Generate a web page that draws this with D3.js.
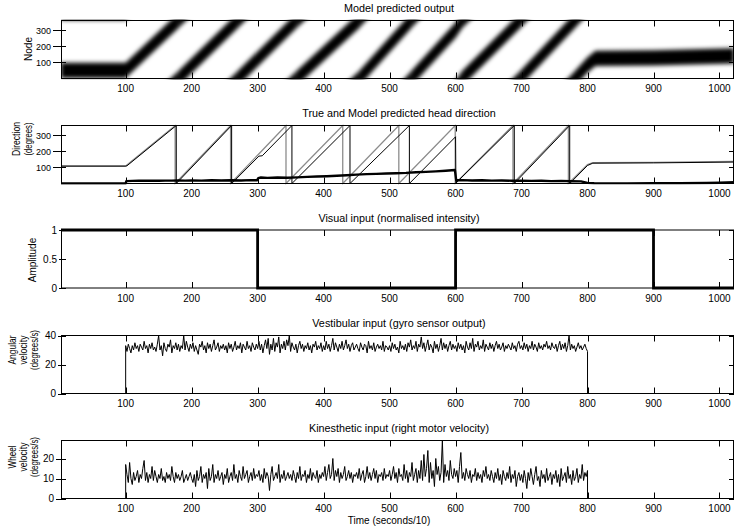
<!DOCTYPE html>
<html>
<head>
<meta charset="utf-8">
<script src="https://cdn.jsdelivr.net/npm/d3@7"></script>
<style>
  body { margin: 0; background: #fff; }
  text { font-family: "Liberation Sans", Arial, sans-serif; fill: #000; }
</style>
</head>
<body>
<div id="grafico"></div>
<script>
// set the dimensions of the figure
var width = 734,
    height = 531

// time axis ticks (seconds/10)
var timeTicks = [100, 200, 300, 400, 500, 600, 700, 800, 900, 1000]

// panel 1: centre of the active bump of nodes
var bandTime = [2, 100, 180, 180, 270, 270, 359, 359, 454, 454, 533, 533, 600, 610, 610, 698, 698, 781, 781, 800, 812, 900, 1022]
var bandNode = [50, 50, 360, 0, 360, 0, 360, 0, 360, 0, 360, 0, 300, 360, 0, 360, 0, 360, 0, 85, 125, 128, 140]

// panel 2: true head direction (grey)
var trueTime = [2, 100, 175, 175, 259, 259, 343, 343, 429, 429, 514, 514, 599.5, 599.5, 687, 687, 771, 771, 800, 808, 900, 1022]
var trueDir = [108, 108, 360, 0, 360, 0, 360, 0, 360, 0, 360, 0, 360, 0, 360, 0, 360, 0, 118, 129, 131, 137]

// panel 2: model predicted head direction (black)
var modelTime = [2, 100, 102, 176.7, 176.7, 260.6, 260.6, 302, 307, 352, 352, 440, 440, 530, 530, 600, 600.5, 689, 689, 773, 773, 800, 808, 900, 1022]
var modelDir = [108, 108, 110, 360, 0, 360, 0, 170, 172, 360, 0, 360, 0, 360, 0, 290, 3, 360, 0, 360, 0, 112, 126, 128, 133]

// panel 2: thick lower trace
var errTime = [2, 100, 101, 110, 120, 130, 140, 150, 160, 170, 180, 190, 200, 215, 230, 245, 260, 275, 290, 299,
  301, 305, 315, 330, 345, 360, 375, 390, 405, 420, 435, 450, 465, 480, 495, 510, 525, 540, 555, 570,
  585, 599, 601, 610, 625, 640, 655, 670, 685, 700, 715, 730, 745, 760, 775, 790, 800, 810, 830, 860,
  900, 940, 980, 1000, 1022]
var errDir = [0, 0, 15, 16, 17, 17, 18, 17, 18, 18, 19, 18, 19, 18, 20, 19, 20, 19, 21, 20,
  33, 37, 35, 37, 36, 38, 41, 43, 45, 48, 51, 55, 58, 60, 62, 64, 66, 70, 72, 75,
  79, 84, 20, 21, 19, 20, 18, 19, 17, 18, 16, 17, 15, 16, 14, 13, 4, 2, 1, 1,
  2, 2, 3, 5, 8]

// panel 3: visual input
var visTime = [2, 300, 300, 600, 600, 900, 900, 1022]
var visAmp = [1, 1, 0, 0, 1, 1, 0, 0]

// panels 4 and 5: sensor samples from t=100 to t=800, one every 2 steps
var inputStart = 100,
    inputStep = 2

var gyroValues = [
  33,29,34,31,28,33,30,35,31,33,29,34,32,30,36,31,33,28,34,31,35,30,32,29,34,
  40,30,33,26,35,31,29,34,32,37,28,33,31,35,30,34,29,33,31,40,30,36,32,29,34,
  31,35,29,33,30,27,34,32,36,30,33,28,35,31,34,29,33,37,30,32,35,29,33,31,34,
  30,33,28,35,31,34,29,32,36,30,33,31,35,28,34,32,30,36,31,33,29,35,32,30,34,
  31,36,30,34,28,33,37,31,38,27,34,30,38,29,35,32,39,28,34,31,36,30,37,33,40,
  29,35,32,30,34,28,33,36,31,34,29,33,31,35,30,33,28,34,32,36,30,33,31,35,29,
  33,30,36,31,34,29,33,38,30,35,32,29,34,31,36,30,33,37,31,34,29,33,35,30,32,
  34,31,29,35,32,30,34,33,28,36,31,33,30,35,29,32,34,31,33,30,36,29,33,32,30,
  33,29,35,31,34,30,32,28,36,31,33,30,34,29,35,32,37,30,33,31,36,29,34,32,39,
  31,35,29,33,37,30,34,32,28,36,31,34,29,33,38,30,35,31,34,29,33,36,30,34,31,
  33,29,35,31,34,30,33,28,36,32,30,35,31,38,29,34,32,36,30,33,31,37,29,34,32,
  30,35,31,34,29,33,36,31,34,30,32,35,29,33,31,34,32,30,35,31,33,29,34,36,31,
  33,30,35,31,34,29,33,31,36,30,34,32,29,35,31,33,30,34,32,36,31,33,30,35,32,
  31,34,29,33,36,30,34,31,35,29,33,40,30,34,31,33,29,32,35,31,33,30,32,34,31,
  29]

var wheelValues = [
  17,12,8,18,10,7,13,9,11,14,8,12,10,15,19,9,13,8,12,10,16,9,14,11,8,
  12,10,15,9,11,8,13,10,12,9,16,11,8,13,10,12,9,11,14,8,10,12,9,11,13,
  10,8,12,6,14,9,11,16,8,12,10,13,5,15,9,11,17,8,12,10,14,9,11,13,7,
  12,10,15,8,11,13,9,17,10,12,8,14,11,9,16,10,12,14,8,11,13,9,15,10,12,
  11,14,9,12,8,15,10,13,11,4,12,16,9,11,13,10,17,8,12,10,14,9,11,13,10,
  12,9,14,11,8,13,10,16,9,12,11,14,8,12,10,15,9,13,11,10,14,8,12,10,13,
  11,16,9,13,17,10,12,20,9,14,11,15,8,13,10,12,16,9,11,14,10,13,8,12,11,
  13,10,15,9,12,14,8,11,16,10,13,9,12,15,10,14,8,12,11,13,9,15,10,12,11,
  14,9,12,16,10,13,8,15,11,12,9,17,10,14,8,13,11,18,9,12,15,8,14,10,19,
  9,22,11,15,24,8,18,10,14,6,20,12,16,9,13,29,8,17,11,14,9,19,12,10,15,
  11,14,8,16,23,10,13,9,15,12,10,14,8,12,11,15,9,13,10,12,8,14,11,16,10,
  12,9,14,11,8,13,10,15,9,12,7,14,11,9,13,10,16,8,12,10,14,6,11,13,9,
  12,8,14,10,5,13,9,15,11,7,12,16,9,11,6,14,10,12,8,15,9,11,13,7,12,
  10,14,8,12,6,15,9,11,13,8,16,10,12,7,14,9,11,15,8,12,10,17,9,13,11,
  14]

// layout of the five stacked axes
var left = 61, right = 734, plotH = 58
var panels = [
  { top: 20.5, domain: [0, 360], ticks: [100, 200, 300], labelEnd: 51, tickFont: 9,
    title: "Model predicted output", ylab: ["Node"], ylabX: [28], ylabY: 49, ylabLen: [null] },
  { top: 125.5, domain: [0, 360], ticks: [100, 200, 300], labelEnd: 51, tickFont: 9,
    title: "True and Model predicted head direction", ylab: ["Direction", "(degrees)"], ylabX: [16, 28], ylabY: 139, ylabLen: [34, 33] },
  { top: 230, domain: [0, 1], ticks: [0, 0.5, 1], labelEnd: 57, tickFont: 10,
    title: "Visual input (normalised intensity)", ylab: ["Amplitude"], ylabX: [32], ylabY: 260, ylabLen: [null] },
  { top: 335.5, domain: [0, 40], ticks: [0, 20, 40], labelEnd: 56, tickFont: 10,
    title: "Vestibular input (gyro sensor output)", ylab: ["Angular", "velocity", "(degrees/s)"], ylabX: [12, 23, 34], ylabY: 350, ylabLen: [29, 29, 40] },
  { top: 440.5, domain: [0, 29], ticks: [0, 10, 20], labelEnd: 54, tickFont: 10,
    title: "Kinesthetic input (right motor velocity)", ylab: ["Wheel", "velocity", "(degrees/s)"], ylabX: [12, 23, 34], ylabY: 457, ylabLen: [23, 29, 40] }
]

var x = d3.scaleLinear()
  .domain([2, 1022])
  .range([left, right])

var svg = d3.select("#grafico")
  .append("svg")
    .attr("width", width)
    .attr("height", height)

svg.append("rect")
  .attr("width", width)
  .attr("height", height)
  .attr("fill", "#fff")

var defs = svg.append("defs")
defs.append("filter")
    .attr("id", "soft")
    .attr("x", "-5%").attr("y", "-20%")
    .attr("width", "110%").attr("height", "140%")
  .append("feGaussianBlur")
    .attr("stdDeviation", 1.9)

function inputSeries(vals) {
  var pts = [[2, 0], [inputStart, 0]]
  vals.forEach(function(v, i) { pts.push([inputStart + i * inputStep, v]) })
  pts.push([inputStart + (vals.length - 1) * inputStep, 0], [1022, 0])
  return pts
}

panels.forEach(function(p, k) {
  var bottom = p.top + plotH
  var y = d3.scaleLinear().domain(p.domain).range([bottom, p.top])
  var g = svg.append("g")

  var pad = (k == 2) ? 3 : 1
  defs.append("clipPath")
      .attr("id", "clip" + k)
    .append("rect")
      .attr("x", left)
      .attr("y", p.top - pad)
      .attr("width", right - left)
      .attr("height", plotH + 2 * pad)

  var plot = g.append("g").attr("clip-path", "url(#clip" + k + ")")
  var line = d3.line()
    .x(function(d) { return x(d[0]) })
    .y(function(d) { return y(d[1]) })

  if (k == 0) {
    // active node bump, repeated above and below so it wraps round 360
    var band = d3.zip(bandTime, bandNode)
    var blur = plot.append("g").attr("filter", "url(#soft)")
    ;[-360, 0, 360].forEach(function(shift) {
      blur.append("path")
        .attr("d", d3.area()
          .x(function(d) { return x(d[0]) })
          .y0(function(d) { return y(d[1] + shift - 47) })
          .y1(function(d) { return y(d[1] + shift + 47) })(band))
        .attr("fill", "#000")
    })
  }

  if (k == 1) {
    plot.append("path")
      .attr("d", line(d3.zip(trueTime, trueDir)))
      .attr("fill", "none")
      .attr("stroke", "#8c8c8c")
      .attr("stroke-width", 1.3)
    plot.append("path")
      .attr("d", line(d3.zip(modelTime, modelDir)))
      .attr("fill", "none")
      .attr("stroke", "#000")
      .attr("stroke-width", 1)
    plot.append("path")
      .attr("d", line(d3.zip(errTime, errDir)))
      .attr("fill", "none")
      .attr("stroke", "#000")
      .attr("stroke-width", 2.4)
      .attr("stroke-linejoin", "round")
  }

  if (k == 2) {
    plot.append("path")
      .attr("d", line(d3.zip(visTime, visAmp)))
      .attr("fill", "none")
      .attr("stroke", "#000")
      .attr("stroke-width", 2.8)
  }

  if (k == 3 || k == 4) {
    plot.append("path")
      .attr("d", line(inputSeries(k == 3 ? gyroValues : wheelValues)))
      .attr("fill", "none")
      .attr("stroke", "#000")
      .attr("stroke-width", 1)
  }

  // axes box
  g.append("rect")
    .attr("x", left + 0.5)
    .attr("y", p.top)
    .attr("width", right - left - 1)
    .attr("height", plotH)
    .attr("fill", "none")
    .attr("stroke", "#000")
    .attr("stroke-width", 1)

  // x ticks point inwards from top and bottom
  timeTicks.forEach(function(t) {
    var xt = Math.round(x(t)) + 0.5
    g.append("line").attr("x1", xt).attr("x2", xt)
      .attr("y1", bottom).attr("y2", bottom - 6)
      .attr("stroke", "#000")
    g.append("line").attr("x1", xt).attr("x2", xt)
      .attr("y1", p.top).attr("y2", p.top + 6)
      .attr("stroke", "#000")
    g.append("text")
      .attr("x", x(t))
      .attr("y", bottom + 13.6)
      .attr("text-anchor", "middle")
      .style("font-size", "10px")
      .text(t)
  })

  // y ticks
  p.ticks.forEach(function(v) {
    var yt = Math.round(y(v)) + 0.5
    g.append("line").attr("x1", p.labelEnd + 2).attr("x2", left + 5)
      .attr("y1", yt).attr("y2", yt)
      .attr("stroke", "#000")
    g.append("line").attr("x1", right - 5).attr("x2", right)
      .attr("y1", yt).attr("y2", yt)
      .attr("stroke", "#000")
    g.append("text")
      .attr("x", p.labelEnd)
      .attr("y", y(v) + 3.5)
      .attr("text-anchor", "end")
      .style("font-size", p.tickFont + "px")
      .text(v)
  })

  // title
  g.append("text")
    .attr("x", 399)
    .attr("y", p.top - 8.5)
    .attr("text-anchor", "middle")
    .style("font-size", "10.8px")
    .text(p.title)

  // y label, one rotated line per entry
  p.ylab.forEach(function(s, i) {
    var t = g.append("text")
      .attr("transform", "translate(" + (p.ylabX[i] + 3.6) + "," + p.ylabY + ") rotate(-90)")
      .attr("text-anchor", "middle")
      .style("font-size", "10px")
      .text(s)
    if (p.ylabLen[i]) t.attr("textLength", p.ylabLen[i]).attr("lengthAdjust", "spacingAndGlyphs")
  })
})

svg.append("text")
  .attr("x", 389)
  .attr("y", 524)
  .attr("text-anchor", "middle")
  .style("font-size", "10px")
  .text("Time (seconds/10)")
</script>
</body>
</html>
